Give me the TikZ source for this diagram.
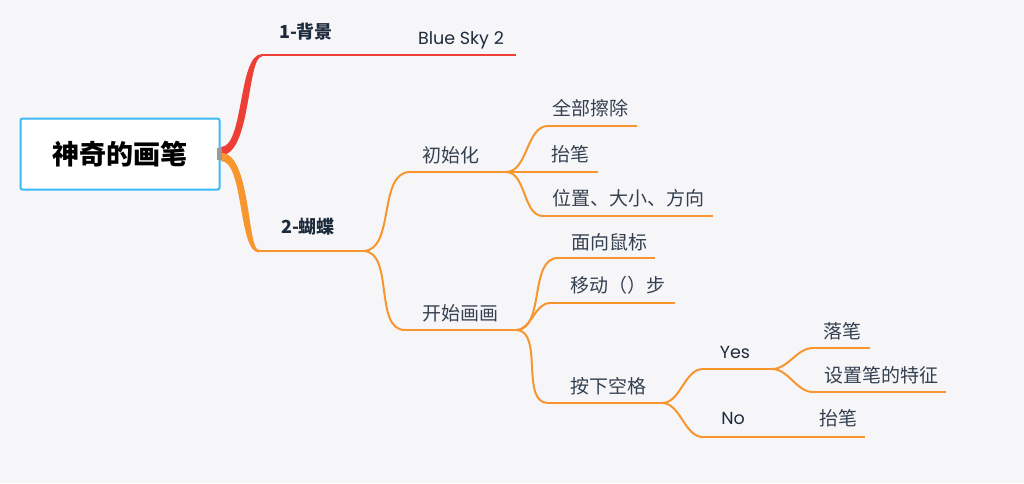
\documentclass[tikz,border=0pt]{standalone}
\usepackage{fontspec}
\setmainfont{Noto Sans CJK SC}
\newfontfamily\latinfont{Poppins}
\begin{document}
\begin{tikzpicture}[x=1pt,y=-1pt,
  lbl/.style={text=txtc,font=\fontsize{19}{22}\selectfont,inner sep=0pt},
  lbllat/.style={text=txtd,font=\latinfont\fontsize{17.5}{20}\selectfont,inner sep=0pt},
  mainlbl/.style={text=txtd,font=\bfseries\fontsize{18}{21}\selectfont,inner sep=0pt},
  oline/.style={draw=orng,line width=2pt},
  rline/.style={draw=redc,line width=2pt},
  curv/.style={draw=orng,line width=2pt,out=0,in=180,looseness=0.9},
]
\definecolor{bgc}{HTML}{F6F6F9}
\definecolor{orng}{HTML}{F7962F}
\definecolor{redc}{HTML}{EE3F37}
\definecolor{txtc}{HTML}{344050}
\definecolor{txtd}{HTML}{1E2B3C}
\definecolor{bluec}{HTML}{3CB9F6}
\definecolor{grayc}{HTML}{9A9A9A}
\fill[bgc] (0,0) rectangle (1024,483);
\useasboundingbox (0,0) rectangle (1024,483);

% root
\node[draw=bluec,line width=2pt,fill=white,rounded corners=2pt,minimum width=199pt,minimum height=71pt,inner sep=0pt,font=\bfseries\fontsize{27}{30}\selectfont,text=black] (root) at (120,154) {神奇的画笔};
\coordinate (rs) at (221,151);
\coordinate (os) at (221,157);

% main branch coordinates
\coordinate (b1s) at (262,55);
\coordinate (b1e) at (516,55);
\coordinate (b2s) at (259,251);
\coordinate (b2e) at (363,251);

% tapered red branch
\fill[redc] (221,147) .. controls (244,147) and (238,54) .. (262,54) -- (262,56.5) .. controls (247,56.5) and (251,156) .. (221,155) -- cycle;
% tapered orange branch
\fill[orng] (221,153) .. controls (251,152) and (247,250) .. (259,250) -- (259,252.5) .. controls (238,252.5) and (244,161) .. (221,161) -- cycle;
\fill[grayc] (217,148) rectangle (222,160);

\draw[rline] (b1s) -- (b1e);
\draw[oline] (b2s) -- (b2e);
\node[mainlbl] (t1) at (306,32) {1-背景};
\node[lbllat] (bs) at (461,40) {Blue Sky 2};
\node[mainlbl] (t2) at (308,227) {2-蝴蝶};

% level 2
\coordinate (c1s) at (410,172); \coordinate (c1e) at (506,172);
\coordinate (c2s) at (405,330); \coordinate (c2e) at (516,330);
\draw[curv] (b2e) to (c1s);
\draw[curv] (b2e) to (c2s);
\draw[oline] (c1s) -- (c1e);
\draw[oline] (c2s) -- (c2e);
\node[lbl] (n1) at (451,155) {初始化};
\node[lbl] (n2) at (460,313) {开始画画};

% children of 初始化
\coordinate (d1s) at (548,126); \coordinate (d1e) at (637,126);
\coordinate (d2e) at (598,172);
\coordinate (d3s) at (543,216); \coordinate (d3e) at (713,216);
\draw[curv] (c1e) to (d1s);
\draw[oline] (c1e) -- (d2e);
\draw[curv] (c1e) to (d3s);
\draw[oline] (d1s) -- (d1e);
\draw[oline] (d3s) -- (d3e);
\node[lbl] (m1) at (590,108) {全部擦除};
\node[lbl] (m2) at (570,154) {抬笔};
\node[lbl] (m3) at (628,198) {位置、大小、方向};

% children of 开始画画
\coordinate (e1s) at (558,258); \coordinate (e1e) at (655,258);
\coordinate (e2s) at (550,303); \coordinate (e2e) at (675,303);
\coordinate (e3s) at (548,403); \coordinate (e3e) at (662,403);
\draw[curv] (c2e) to (e1s);
\draw[curv] (c2e) to (e2s);
\draw[curv] (c2e) to (e3s);
\draw[oline] (e1s) -- (e1e);
\draw[oline] (e2s) -- (e2e);
\draw[oline] (e3s) -- (e3e);
\node[lbl] (k1) at (609,242) {面向鼠标};
\node[lbl] (k2) at (618,285) {移动（）步};
\node[lbl] (k3) at (608,386) {按下空格};

% Yes / No
\coordinate (f1s) at (703,369); \coordinate (f1e) at (772,369);
\coordinate (f2s) at (703,437); \coordinate (f2e) at (810,437);
\draw[curv] (e3e) to (f1s);
\draw[curv] (e3e) to (f2s);
\draw[oline] (f1s) -- (f1e);
\draw[oline] (f2s) -- (f2e);
\node[lbllat] (yes) at (735,352) {Yes};
\node[lbllat] (no) at (733,418) {No};

% children of Yes
\coordinate (g1s) at (813,348); \coordinate (g1e) at (870,348);
\coordinate (g2s) at (813,392); \coordinate (g2e) at (946,392);
\draw[curv] (f1e) to (g1s);
\draw[curv] (f1e) to (g2s);
\draw[oline] (g1s) -- (g1e);
\draw[oline] (g2s) -- (g2e);
\node[lbl] (p1) at (842,331) {落笔};
\node[lbl] (p2) at (881,375) {设置笔的特征};

% child of No
\coordinate (h1e) at (865,437);
\draw[oline] (f2e) -- (h1e);
\node[lbl] (q1) at (838,418) {抬笔};
\end{tikzpicture}
\end{document}
